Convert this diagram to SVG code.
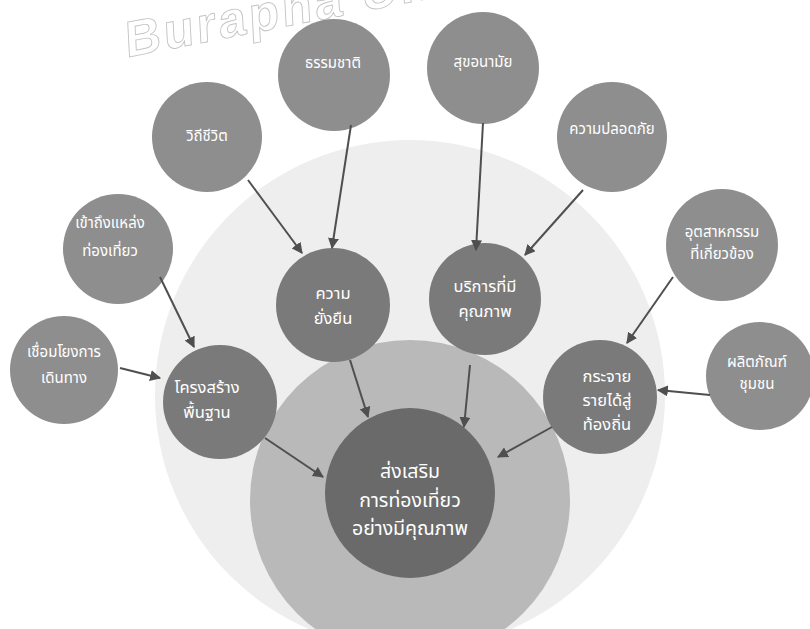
<svg xmlns="http://www.w3.org/2000/svg" width="810" height="629" viewBox="0 0 810 629">
<defs>
<style>
.outer{fill:#8e8e8e}
.mid{fill:#7a7a7a}
.core{fill:#6a6a6a}
.lbl{fill:#ffffff;font-family:"Noto Sans Thai","Noto Sans","DejaVu Sans",sans-serif;font-size:15px;text-anchor:middle}
.lbl2{fill:#ffffff;font-family:"Noto Sans Thai","Noto Sans","DejaVu Sans",sans-serif;font-size:16.5px;text-anchor:middle}
.lbl3{fill:#ffffff;font-family:"Noto Sans Thai","Noto Sans","DejaVu Sans",sans-serif;font-size:19.5px;text-anchor:middle}
.arr{stroke:#4f4f4f;stroke-width:2;fill:none;marker-end:url(#ah)}
.wm{fill:#ffffff;stroke:#c4c4c4;stroke-width:0.9;font-family:"Liberation Sans",sans-serif;font-size:50px;font-weight:bold;letter-spacing:3px}
</style>
<marker id="ah" viewBox="0 0 10 10" refX="9" refY="5" markerWidth="11" markerHeight="11" markerUnits="userSpaceOnUse" orient="auto">
<path d="M0,0 L10,5 L0,10 z" fill="#4f4f4f"/>
</marker>
</defs>
<rect width="810" height="629" fill="#ffffff"/>
<text class="wm" x="134" y="56" transform="rotate(-11 134 56) skewX(-8)">Burapha Uni</text>

<g id="bg-light"><circle cx="410" cy="395" r="255" fill="#eeeeee"/></g>
<g id="bg-medium"><circle cx="410" cy="500" r="160" fill="#b9b9b9"/></g>

<g id="n-nature"><circle class="outer" cx="334" cy="75" r="56"/><text class="lbl" x="333" y="68">ธรรมชาติ</text></g>
<g id="n-hygiene"><circle class="outer" cx="483" cy="68" r="56"/><text class="lbl" x="483" y="67">สุขอนามัย</text></g>
<g id="n-lifestyle"><circle class="outer" cx="207" cy="137" r="55"/><text class="lbl" x="207" y="141">วิถีชีวิต</text></g>
<g id="n-safety"><circle class="outer" cx="612" cy="137" r="55"/><text class="lbl" x="612" y="134">ความปลอดภัย</text></g>
<g id="n-access"><circle class="outer" cx="118" cy="249" r="55"/><text class="lbl" x="110" y="228">เข้าถึงแหล่ง</text><text class="lbl" x="110" y="256">ท่องเที่ยว</text></g>
<g id="n-connect"><circle class="outer" cx="64" cy="370" r="54"/><text class="lbl" x="64" y="357">เชื่อมโยงการ</text><text class="lbl" x="64" y="383">เดินทาง</text></g>
<g id="n-industry"><circle class="outer" cx="722" cy="245" r="56"/><text class="lbl" x="722" y="237">อุตสาหกรรม</text><text class="lbl" x="722" y="259">ที่เกี่ยวข้อง</text></g>
<g id="n-product"><circle class="outer" cx="760" cy="376" r="54"/><text class="lbl" x="757" y="367">ผลิตภัณฑ์</text><text class="lbl" x="757" y="389">ชุมชน</text></g>

<g id="n-infra"><circle class="mid" cx="220" cy="402" r="57"/><text class="lbl2" x="207" y="393">โครงสร้าง</text><text class="lbl2" x="207" y="418">พื้นฐาน</text></g>
<g id="n-sustain"><circle class="mid" cx="333" cy="305" r="57"/><text class="lbl2" x="333" y="299">ความ</text><text class="lbl2" x="333" y="324">ยั่งยืน</text></g>
<g id="n-service"><circle class="mid" cx="485" cy="299" r="56"/><text class="lbl2" x="485" y="292">บริการที่มี</text><text class="lbl2" x="485" y="317">คุณภาพ</text></g>
<g id="n-income"><circle class="mid" cx="600" cy="397" r="57"/><text class="lbl2" x="607" y="382">กระจาย</text><text class="lbl2" x="607" y="406">รายได้สู่</text><text class="lbl2" x="607" y="430">ท้องถิ่น</text></g>

<g id="n-center"><circle class="core" cx="410" cy="493" r="85"/><text class="lbl3" x="410" y="478">ส่งเสริม</text><text class="lbl3" x="410" y="507">การท่องเที่ยว</text><text class="lbl3" x="410" y="535">อย่างมีคุณภาพ</text></g>

<g id="connectors">
<line class="arr" x1="248" y1="180" x2="302" y2="253"/>
<line class="arr" x1="351" y1="125" x2="332" y2="248"/>
<line class="arr" x1="483" y1="123" x2="476" y2="250"/>
<line class="arr" x1="583" y1="190" x2="525" y2="255"/>
<line class="arr" x1="160" y1="277" x2="194" y2="347"/>
<line class="arr" x1="120" y1="368" x2="160" y2="378"/>
<line class="arr" x1="673" y1="277" x2="627" y2="343"/>
<line class="arr" x1="710" y1="395" x2="658" y2="390"/>
<line class="arr" x1="350" y1="360" x2="368" y2="417"/>
<line class="arr" x1="470" y1="365" x2="464" y2="427"/>
<line class="arr" x1="265" y1="438" x2="323" y2="477"/>
<line class="arr" x1="552" y1="427" x2="498" y2="457"/>
</g>
</svg>
